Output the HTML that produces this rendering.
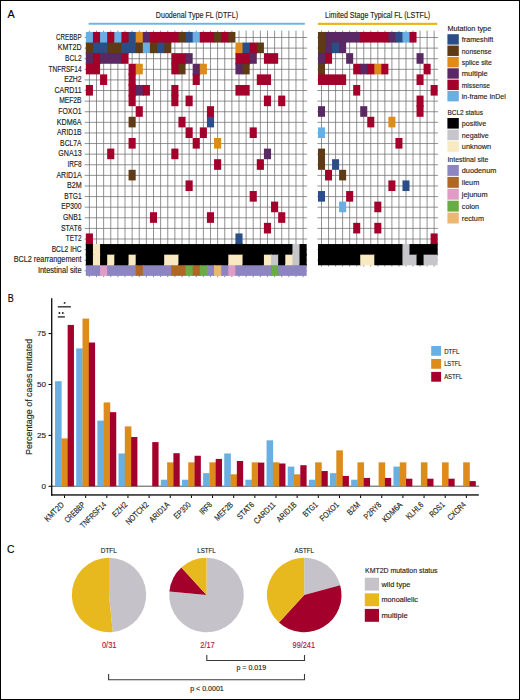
<!DOCTYPE html>
<html><head><meta charset="utf-8"><style>
html,body{margin:0;padding:0;background:#fff;}
body{width:520px;height:700px;overflow:hidden;}
svg{display:block;font-family:"Liberation Sans", sans-serif;}
text{stroke-width:0.15px;}
</style></head><body>
<svg width="520" height="700" viewBox="0 0 520 700">
<rect x="0" y="0" width="520" height="700" fill="#fff"/>
<text x="7.40" y="17.55" font-size="11.65" fill="#000" stroke="#000" text-anchor="start" textLength="7.20" lengthAdjust="spacingAndGlyphs">A</text>
<text x="155.80" y="18.10" font-size="8.72" fill="#231f20" stroke="#231f20" text-anchor="start" textLength="82.20" lengthAdjust="spacingAndGlyphs">Duodenal Type FL (DTFL)</text>
<text x="325.00" y="18.20" font-size="8.72" fill="#231f20" stroke="#231f20" text-anchor="start" textLength="105.20" lengthAdjust="spacingAndGlyphs">Limited Stage Typical FL (LSTFL)</text>
<rect x="88.6" y="22.8" width="216.2" height="1.9" fill="#6cb2e6"/>
<rect x="317.9" y="22.8" width="119.4" height="2.1" fill="#e9b40e"/>
<path d="M89.38 30.65V277.17M96.51 30.65V277.17M103.63 30.65V277.17M110.75 30.65V277.17M117.88 30.65V277.17M125.00 30.65V277.17M132.13 30.65V277.17M139.25 30.65V277.17M146.37 30.65V277.17M153.50 30.65V277.17M160.62 30.65V277.17M167.75 30.65V277.17M174.87 30.65V277.17M181.99 30.65V277.17M189.12 30.65V277.17M196.24 30.65V277.17M203.37 30.65V277.17M210.49 30.65V277.17M217.61 30.65V277.17M224.74 30.65V277.17M231.86 30.65V277.17M238.99 30.65V277.17M246.11 30.65V277.17M253.23 30.65V277.17M260.36 30.65V277.17M267.48 30.65V277.17M274.61 30.65V277.17M281.73 30.65V277.17M288.85 30.65V277.17M295.98 30.65V277.17M303.10 30.65V277.17M321.50 30.65V266.56M328.54 30.65V266.56M335.58 30.65V266.56M342.62 30.65V266.56M349.66 30.65V266.56M356.70 30.65V266.56M363.74 30.65V266.56M370.78 30.65V266.56M377.82 30.65V266.56M384.86 30.65V266.56M391.90 30.65V266.56M398.94 30.65V266.56M405.98 30.65V266.56M413.02 30.65V266.56M420.06 30.65V266.56M427.10 30.65V266.56M434.14 30.65V266.56M84.62 37.50H307.16M84.62 48.11H307.16M84.62 58.71H307.16M84.62 69.32H307.16M84.62 79.92H307.16M84.62 90.53H307.16M84.62 101.13H307.16M84.62 111.74H307.16M84.62 122.34H307.16M84.62 132.95H307.16M84.62 143.55H307.16M84.62 154.16H307.16M84.62 164.76H307.16M84.62 175.37H307.16M84.62 185.97H307.16M84.62 196.58H307.16M84.62 207.18H307.16M84.62 217.79H307.16M84.62 228.39H307.16M84.62 239.00H307.16M84.62 249.60H307.16M84.62 260.21H307.16M84.62 270.81H307.16M317.38 37.50H438.06M317.38 48.11H438.06M317.38 58.71H438.06M317.38 69.32H438.06M317.38 79.92H438.06M317.38 90.53H438.06M317.38 101.13H438.06M317.38 111.74H438.06M317.38 122.34H438.06M317.38 132.95H438.06M317.38 143.55H438.06M317.38 154.16H438.06M317.38 164.76H438.06M317.38 175.37H438.06M317.38 185.97H438.06M317.38 196.58H438.06M317.38 207.18H438.06M317.38 217.79H438.06M317.38 228.39H438.06M317.38 239.00H438.06M317.38 249.60H438.06M317.38 260.21H438.06" stroke="#6e6e6e" stroke-width="0.75" fill="none"/>
<rect x="85.82" y="31.95" width="8.12" height="10.61" fill="#6aafe2"/>
<rect x="85.82" y="41.55" width="7.12" height="2.00" fill="#6aafe2"/>
<rect x="92.94" y="31.95" width="8.12" height="10.61" fill="#a3002b"/>
<rect x="92.94" y="41.55" width="7.12" height="2.00" fill="#a3002b"/>
<rect x="100.07" y="31.95" width="8.12" height="10.61" fill="#6aafe2"/>
<rect x="100.07" y="41.55" width="7.12" height="2.00" fill="#6aafe2"/>
<rect x="107.19" y="31.95" width="8.12" height="10.61" fill="#a3002b"/>
<rect x="107.19" y="41.55" width="7.12" height="2.00" fill="#a3002b"/>
<rect x="114.32" y="31.95" width="8.12" height="10.61" fill="#6aafe2"/>
<rect x="114.32" y="41.55" width="7.12" height="2.00" fill="#6aafe2"/>
<rect x="121.44" y="31.95" width="8.12" height="10.61" fill="#a3002b"/>
<rect x="121.44" y="41.55" width="7.12" height="2.00" fill="#a3002b"/>
<rect x="128.56" y="31.95" width="8.12" height="10.61" fill="#2b4e86"/>
<rect x="128.56" y="41.55" width="7.12" height="2.00" fill="#2b4e86"/>
<rect x="135.69" y="31.95" width="8.12" height="10.61" fill="#dd8b1b"/>
<rect x="135.69" y="41.55" width="7.12" height="2.00" fill="#dd8b1b"/>
<rect x="142.81" y="31.95" width="8.12" height="10.61" fill="#5a2862"/>
<rect x="142.81" y="41.55" width="7.12" height="2.00" fill="#5a2862"/>
<rect x="149.94" y="31.95" width="29.50" height="10.61" fill="#a3002b"/>
<rect x="149.94" y="41.55" width="21.37" height="2.00" fill="#a3002b"/>
<rect x="178.43" y="31.95" width="8.12" height="10.61" fill="#5e3b16"/>
<rect x="185.56" y="31.95" width="8.12" height="10.61" fill="#2b4e86"/>
<rect x="192.68" y="31.95" width="8.12" height="10.61" fill="#6aafe2"/>
<rect x="199.80" y="31.95" width="15.25" height="10.61" fill="#a3002b"/>
<rect x="214.05" y="31.95" width="8.12" height="10.61" fill="#5e3b16"/>
<rect x="221.18" y="31.95" width="8.12" height="10.61" fill="#a3002b"/>
<rect x="228.30" y="31.95" width="7.12" height="10.61" fill="#5e3b16"/>
<rect x="85.82" y="42.55" width="8.12" height="10.61" fill="#5e3b16"/>
<rect x="85.82" y="52.16" width="7.12" height="2.00" fill="#5e3b16"/>
<rect x="92.94" y="42.55" width="15.25" height="10.61" fill="#2b4e86"/>
<rect x="92.94" y="52.16" width="14.25" height="2.00" fill="#2b4e86"/>
<rect x="107.19" y="42.55" width="15.25" height="10.61" fill="#5e3b16"/>
<rect x="107.19" y="52.16" width="14.25" height="2.00" fill="#5e3b16"/>
<rect x="121.44" y="42.55" width="15.25" height="10.61" fill="#2b4e86"/>
<rect x="121.44" y="52.16" width="7.12" height="2.00" fill="#2b4e86"/>
<rect x="135.69" y="42.55" width="8.12" height="10.61" fill="#5e3b16"/>
<rect x="142.81" y="42.55" width="8.12" height="10.61" fill="#6aafe2"/>
<rect x="149.94" y="42.55" width="8.12" height="10.61" fill="#5e3b16"/>
<rect x="157.06" y="42.55" width="8.12" height="10.61" fill="#2b4e86"/>
<rect x="164.18" y="42.55" width="7.12" height="10.61" fill="#5e3b16"/>
<rect x="235.42" y="42.55" width="8.12" height="10.61" fill="#dd8b1b"/>
<rect x="235.42" y="52.16" width="7.12" height="2.00" fill="#dd8b1b"/>
<rect x="242.55" y="42.55" width="8.12" height="10.61" fill="#2b4e86"/>
<rect x="242.55" y="52.16" width="7.12" height="2.00" fill="#2b4e86"/>
<rect x="249.67" y="42.55" width="8.12" height="10.61" fill="#a3002b"/>
<rect x="249.67" y="52.16" width="7.12" height="2.00" fill="#a3002b"/>
<rect x="256.80" y="42.55" width="7.12" height="10.61" fill="#5e3b16"/>
<rect x="85.82" y="53.16" width="8.12" height="10.61" fill="#5a2862"/>
<rect x="85.82" y="62.77" width="7.12" height="2.00" fill="#5a2862"/>
<rect x="92.94" y="53.16" width="8.12" height="10.61" fill="#a3002b"/>
<rect x="92.94" y="62.77" width="7.12" height="2.00" fill="#a3002b"/>
<rect x="100.07" y="53.16" width="22.37" height="10.61" fill="#5a2862"/>
<rect x="121.44" y="53.16" width="7.12" height="10.61" fill="#a3002b"/>
<rect x="171.31" y="53.16" width="15.25" height="10.61" fill="#a3002b"/>
<rect x="171.31" y="62.77" width="14.25" height="2.00" fill="#a3002b"/>
<rect x="185.56" y="53.16" width="7.12" height="10.61" fill="#5a2862"/>
<rect x="235.42" y="53.16" width="15.25" height="10.61" fill="#a3002b"/>
<rect x="235.42" y="62.77" width="14.25" height="2.00" fill="#a3002b"/>
<rect x="249.67" y="53.16" width="7.12" height="10.61" fill="#5a2862"/>
<rect x="263.92" y="53.16" width="14.25" height="10.61" fill="#a3002b"/>
<rect x="85.82" y="63.77" width="14.25" height="10.61" fill="#a3002b"/>
<rect x="128.56" y="63.77" width="8.12" height="10.61" fill="#a3002b"/>
<rect x="128.56" y="73.37" width="7.12" height="2.00" fill="#a3002b"/>
<rect x="135.69" y="63.77" width="7.12" height="10.61" fill="#dd8b1b"/>
<rect x="171.31" y="63.77" width="8.12" height="10.61" fill="#a3002b"/>
<rect x="178.43" y="63.77" width="7.12" height="10.61" fill="#5e3b16"/>
<rect x="192.68" y="63.77" width="8.12" height="10.61" fill="#5a2862"/>
<rect x="192.68" y="73.37" width="7.12" height="2.00" fill="#5a2862"/>
<rect x="199.80" y="63.77" width="7.12" height="10.61" fill="#dd8b1b"/>
<rect x="235.42" y="63.77" width="8.12" height="10.61" fill="#5a2862"/>
<rect x="242.55" y="63.77" width="7.12" height="10.61" fill="#5e3b16"/>
<rect x="100.07" y="74.37" width="7.12" height="10.61" fill="#a3002b"/>
<rect x="128.56" y="74.37" width="7.12" height="10.61" fill="#a3002b"/>
<rect x="128.56" y="83.98" width="7.12" height="2.00" fill="#a3002b"/>
<rect x="192.68" y="74.37" width="7.12" height="10.61" fill="#a3002b"/>
<rect x="256.80" y="74.37" width="14.25" height="10.61" fill="#a3002b"/>
<rect x="85.82" y="84.98" width="7.12" height="10.61" fill="#a3002b"/>
<rect x="128.56" y="84.98" width="8.12" height="10.61" fill="#a3002b"/>
<rect x="128.56" y="94.58" width="7.12" height="2.00" fill="#a3002b"/>
<rect x="135.69" y="84.98" width="8.12" height="10.61" fill="#5a2862"/>
<rect x="142.81" y="84.98" width="7.12" height="10.61" fill="#a3002b"/>
<rect x="171.31" y="84.98" width="7.12" height="10.61" fill="#a3002b"/>
<rect x="171.31" y="94.58" width="7.12" height="2.00" fill="#a3002b"/>
<rect x="235.42" y="84.98" width="14.25" height="10.61" fill="#a3002b"/>
<rect x="128.56" y="95.58" width="7.12" height="10.61" fill="#a3002b"/>
<rect x="171.31" y="95.58" width="7.12" height="10.61" fill="#a3002b"/>
<rect x="185.56" y="95.58" width="7.12" height="10.61" fill="#a3002b"/>
<rect x="263.92" y="95.58" width="7.12" height="10.61" fill="#a3002b"/>
<rect x="278.17" y="95.58" width="7.12" height="10.61" fill="#a3002b"/>
<rect x="135.69" y="106.19" width="7.12" height="10.61" fill="#a3002b"/>
<rect x="206.93" y="106.19" width="7.12" height="10.61" fill="#a3002b"/>
<rect x="206.93" y="115.79" width="7.12" height="2.00" fill="#a3002b"/>
<rect x="128.56" y="116.79" width="7.12" height="10.61" fill="#5e3b16"/>
<rect x="178.43" y="116.79" width="7.12" height="10.61" fill="#a3002b"/>
<rect x="206.93" y="116.79" width="7.12" height="10.61" fill="#2b4e86"/>
<rect x="185.56" y="127.40" width="7.12" height="10.61" fill="#a3002b"/>
<rect x="199.80" y="127.40" width="7.12" height="10.61" fill="#a3002b"/>
<rect x="249.67" y="127.40" width="7.12" height="10.61" fill="#a3002b"/>
<rect x="128.56" y="138.00" width="7.12" height="10.61" fill="#a3002b"/>
<rect x="192.68" y="138.00" width="7.12" height="10.61" fill="#a3002b"/>
<rect x="214.05" y="138.00" width="7.12" height="10.61" fill="#dd8b1b"/>
<rect x="107.19" y="148.60" width="7.12" height="10.61" fill="#a3002b"/>
<rect x="171.31" y="148.60" width="7.12" height="10.61" fill="#a3002b"/>
<rect x="263.92" y="148.60" width="7.12" height="10.61" fill="#5a2862"/>
<rect x="214.05" y="159.21" width="7.12" height="10.61" fill="#a3002b"/>
<rect x="256.80" y="159.21" width="7.12" height="10.61" fill="#a3002b"/>
<rect x="128.56" y="169.81" width="7.12" height="10.61" fill="#5e3b16"/>
<rect x="185.56" y="180.42" width="7.12" height="10.61" fill="#a3002b"/>
<rect x="249.67" y="191.03" width="7.12" height="10.61" fill="#a3002b"/>
<rect x="271.04" y="201.63" width="7.12" height="10.61" fill="#a3002b"/>
<rect x="149.94" y="212.23" width="7.12" height="10.61" fill="#a3002b"/>
<rect x="206.93" y="212.23" width="7.12" height="10.61" fill="#a3002b"/>
<rect x="278.17" y="212.23" width="7.12" height="10.61" fill="#a3002b"/>
<rect x="263.92" y="222.84" width="7.12" height="10.61" fill="#a3002b"/>
<rect x="85.82" y="233.44" width="7.12" height="10.61" fill="#a3002b"/>
<rect x="85.82" y="243.05" width="7.12" height="2.00" fill="#a3002b"/>
<rect x="235.42" y="233.44" width="7.12" height="10.61" fill="#2b4e86"/>
<rect x="235.42" y="243.05" width="7.12" height="2.00" fill="#2b4e86"/>
<rect x="85.82" y="244.05" width="8.12" height="10.61" fill="#000000"/>
<rect x="85.82" y="253.66" width="7.12" height="2.00" fill="#000000"/>
<rect x="92.94" y="244.05" width="8.12" height="10.61" fill="#f8e9c2"/>
<rect x="92.94" y="253.66" width="7.12" height="2.00" fill="#f8e9c2"/>
<rect x="100.07" y="244.05" width="193.35" height="10.61" fill="#000000"/>
<rect x="100.07" y="253.66" width="192.35" height="2.00" fill="#000000"/>
<rect x="292.42" y="244.05" width="8.12" height="10.61" fill="#c6c5ca"/>
<rect x="292.42" y="253.66" width="7.12" height="2.00" fill="#c6c5ca"/>
<rect x="299.54" y="244.05" width="7.12" height="10.61" fill="#000000"/>
<rect x="299.54" y="253.66" width="7.12" height="2.00" fill="#000000"/>
<rect x="85.82" y="254.66" width="8.12" height="10.61" fill="#000000"/>
<rect x="85.82" y="264.26" width="7.12" height="2.00" fill="#000000"/>
<rect x="92.94" y="254.66" width="8.12" height="10.61" fill="#f8e9c2"/>
<rect x="92.94" y="264.26" width="7.12" height="2.00" fill="#f8e9c2"/>
<rect x="100.07" y="254.66" width="8.12" height="10.61" fill="#000000"/>
<rect x="100.07" y="264.26" width="7.12" height="2.00" fill="#000000"/>
<rect x="107.19" y="254.66" width="8.12" height="10.61" fill="#f8e9c2"/>
<rect x="107.19" y="264.26" width="7.12" height="2.00" fill="#f8e9c2"/>
<rect x="114.32" y="254.66" width="15.25" height="10.61" fill="#000000"/>
<rect x="114.32" y="264.26" width="14.25" height="2.00" fill="#000000"/>
<rect x="128.56" y="254.66" width="8.12" height="10.61" fill="#f8e9c2"/>
<rect x="128.56" y="264.26" width="7.12" height="2.00" fill="#f8e9c2"/>
<rect x="135.69" y="254.66" width="29.50" height="10.61" fill="#000000"/>
<rect x="135.69" y="264.26" width="28.50" height="2.00" fill="#000000"/>
<rect x="164.18" y="254.66" width="15.25" height="10.61" fill="#f8e9c2"/>
<rect x="164.18" y="264.26" width="14.25" height="2.00" fill="#f8e9c2"/>
<rect x="178.43" y="254.66" width="50.87" height="10.61" fill="#000000"/>
<rect x="178.43" y="264.26" width="49.87" height="2.00" fill="#000000"/>
<rect x="228.30" y="254.66" width="15.25" height="10.61" fill="#f8e9c2"/>
<rect x="228.30" y="264.26" width="14.25" height="2.00" fill="#f8e9c2"/>
<rect x="242.55" y="254.66" width="22.37" height="10.61" fill="#000000"/>
<rect x="242.55" y="264.26" width="21.37" height="2.00" fill="#000000"/>
<rect x="263.92" y="254.66" width="8.12" height="10.61" fill="#f8e9c2"/>
<rect x="263.92" y="264.26" width="7.12" height="2.00" fill="#f8e9c2"/>
<rect x="271.04" y="254.66" width="8.12" height="10.61" fill="#c6c5ca"/>
<rect x="271.04" y="264.26" width="7.12" height="2.00" fill="#c6c5ca"/>
<rect x="278.17" y="254.66" width="8.12" height="10.61" fill="#000000"/>
<rect x="278.17" y="264.26" width="7.12" height="2.00" fill="#000000"/>
<rect x="285.29" y="254.66" width="8.12" height="10.61" fill="#f8e9c2"/>
<rect x="285.29" y="264.26" width="7.12" height="2.00" fill="#f8e9c2"/>
<rect x="292.42" y="254.66" width="8.12" height="10.61" fill="#c6c5ca"/>
<rect x="292.42" y="264.26" width="7.12" height="2.00" fill="#c6c5ca"/>
<rect x="299.54" y="254.66" width="7.12" height="10.61" fill="#000000"/>
<rect x="299.54" y="264.26" width="7.12" height="2.00" fill="#000000"/>
<rect x="85.82" y="265.26" width="15.25" height="10.61" fill="#8d85c0"/>
<rect x="100.07" y="265.26" width="8.12" height="10.61" fill="#e09cc6"/>
<rect x="107.19" y="265.26" width="29.50" height="10.61" fill="#8d85c0"/>
<rect x="135.69" y="265.26" width="8.12" height="10.61" fill="#af6726"/>
<rect x="142.81" y="265.26" width="29.50" height="10.61" fill="#8d85c0"/>
<rect x="171.31" y="265.26" width="15.25" height="10.61" fill="#af6726"/>
<rect x="185.56" y="265.26" width="8.12" height="10.61" fill="#6aac44"/>
<rect x="192.68" y="265.26" width="8.12" height="10.61" fill="#af6726"/>
<rect x="199.80" y="265.26" width="8.12" height="10.61" fill="#6aac44"/>
<rect x="206.93" y="265.26" width="8.12" height="10.61" fill="#8d85c0"/>
<rect x="214.05" y="265.26" width="8.12" height="10.61" fill="#ebb874"/>
<rect x="221.18" y="265.26" width="8.12" height="10.61" fill="#8d85c0"/>
<rect x="228.30" y="265.26" width="8.12" height="10.61" fill="#e09cc6"/>
<rect x="235.42" y="265.26" width="36.62" height="10.61" fill="#8d85c0"/>
<rect x="271.04" y="265.26" width="8.12" height="10.61" fill="#6aac44"/>
<rect x="278.17" y="265.26" width="28.50" height="10.61" fill="#8d85c0"/>
<rect x="317.98" y="31.95" width="8.04" height="10.61" fill="#5e3b16"/>
<rect x="317.98" y="41.55" width="7.04" height="2.00" fill="#5e3b16"/>
<rect x="325.02" y="31.95" width="36.20" height="10.61" fill="#5a2862"/>
<rect x="325.02" y="41.55" width="21.12" height="2.00" fill="#5a2862"/>
<rect x="360.22" y="31.95" width="29.16" height="10.61" fill="#a3002b"/>
<rect x="388.38" y="31.95" width="8.04" height="10.61" fill="#5a2862"/>
<rect x="395.42" y="31.95" width="8.04" height="10.61" fill="#2b4e86"/>
<rect x="402.46" y="31.95" width="8.04" height="10.61" fill="#6aafe2"/>
<rect x="409.50" y="31.95" width="7.04" height="10.61" fill="#a3002b"/>
<rect x="317.98" y="42.55" width="8.04" height="10.61" fill="#5e3b16"/>
<rect x="317.98" y="52.16" width="7.04" height="2.00" fill="#5e3b16"/>
<rect x="325.02" y="42.55" width="8.04" height="10.61" fill="#5a2862"/>
<rect x="325.02" y="52.16" width="7.04" height="2.00" fill="#5a2862"/>
<rect x="332.06" y="42.55" width="8.04" height="10.61" fill="#2b4e86"/>
<rect x="339.10" y="42.55" width="7.04" height="10.61" fill="#5a2862"/>
<rect x="317.98" y="53.16" width="8.04" height="10.61" fill="#5a2862"/>
<rect x="317.98" y="62.77" width="7.04" height="2.00" fill="#5a2862"/>
<rect x="325.02" y="53.16" width="7.04" height="10.61" fill="#a3002b"/>
<rect x="346.14" y="53.16" width="7.04" height="10.61" fill="#5a2862"/>
<rect x="416.54" y="53.16" width="7.04" height="10.61" fill="#5a2862"/>
<rect x="317.98" y="63.77" width="7.04" height="10.61" fill="#5e3b16"/>
<rect x="317.98" y="73.37" width="7.04" height="2.00" fill="#5e3b16"/>
<rect x="353.18" y="63.77" width="8.04" height="10.61" fill="#a3002b"/>
<rect x="360.22" y="63.77" width="8.04" height="10.61" fill="#5a2862"/>
<rect x="367.26" y="63.77" width="8.04" height="10.61" fill="#a3002b"/>
<rect x="374.30" y="63.77" width="8.04" height="10.61" fill="#dd8b1b"/>
<rect x="381.34" y="63.77" width="7.04" height="10.61" fill="#a3002b"/>
<rect x="423.58" y="63.77" width="7.04" height="10.61" fill="#a3002b"/>
<rect x="317.98" y="74.37" width="28.16" height="10.61" fill="#a3002b"/>
<rect x="416.54" y="74.37" width="7.04" height="10.61" fill="#a3002b"/>
<rect x="353.18" y="84.98" width="7.04" height="10.61" fill="#a3002b"/>
<rect x="430.62" y="84.98" width="7.04" height="10.61" fill="#a3002b"/>
<rect x="416.54" y="95.58" width="7.04" height="10.61" fill="#a3002b"/>
<rect x="416.54" y="105.19" width="7.04" height="2.00" fill="#a3002b"/>
<rect x="317.98" y="106.19" width="7.04" height="10.61" fill="#5a2862"/>
<rect x="360.22" y="106.19" width="7.04" height="10.61" fill="#5a2862"/>
<rect x="416.54" y="106.19" width="7.04" height="10.61" fill="#a3002b"/>
<rect x="367.26" y="116.79" width="7.04" height="10.61" fill="#a3002b"/>
<rect x="388.38" y="116.79" width="7.04" height="10.61" fill="#dd8b1b"/>
<rect x="317.98" y="127.40" width="7.04" height="10.61" fill="#6aafe2"/>
<rect x="395.42" y="138.00" width="7.04" height="10.61" fill="#a3002b"/>
<rect x="317.98" y="148.60" width="7.04" height="10.61" fill="#5e3b16"/>
<rect x="317.98" y="158.21" width="7.04" height="2.00" fill="#5e3b16"/>
<rect x="317.98" y="159.21" width="7.04" height="10.61" fill="#5e3b16"/>
<rect x="332.06" y="159.21" width="7.04" height="10.61" fill="#2b4e86"/>
<rect x="325.02" y="169.81" width="7.04" height="10.61" fill="#a3002b"/>
<rect x="339.10" y="169.81" width="7.04" height="10.61" fill="#5e3b16"/>
<rect x="388.38" y="180.42" width="7.04" height="10.61" fill="#a3002b"/>
<rect x="402.46" y="180.42" width="7.04" height="10.61" fill="#2b4e86"/>
<rect x="317.98" y="191.03" width="7.04" height="10.61" fill="#2b4e86"/>
<rect x="346.14" y="191.03" width="7.04" height="10.61" fill="#a3002b"/>
<rect x="339.10" y="201.63" width="7.04" height="10.61" fill="#6aafe2"/>
<rect x="374.30" y="201.63" width="7.04" height="10.61" fill="#a3002b"/>
<rect x="353.18" y="222.84" width="7.04" height="10.61" fill="#a3002b"/>
<rect x="374.30" y="222.84" width="7.04" height="10.61" fill="#a3002b"/>
<rect x="430.62" y="233.44" width="7.04" height="10.61" fill="#a3002b"/>
<rect x="430.62" y="243.05" width="7.04" height="2.00" fill="#a3002b"/>
<rect x="317.98" y="244.05" width="85.48" height="10.61" fill="#000000"/>
<rect x="317.98" y="253.66" width="84.48" height="2.00" fill="#000000"/>
<rect x="402.46" y="244.05" width="8.04" height="10.61" fill="#c6c5ca"/>
<rect x="402.46" y="253.66" width="7.04" height="2.00" fill="#c6c5ca"/>
<rect x="409.50" y="244.05" width="28.16" height="10.61" fill="#000000"/>
<rect x="409.50" y="253.66" width="28.16" height="2.00" fill="#000000"/>
<rect x="317.98" y="254.66" width="43.24" height="10.61" fill="#000000"/>
<rect x="360.22" y="254.66" width="15.08" height="10.61" fill="#f8e9c2"/>
<rect x="374.30" y="254.66" width="29.16" height="10.61" fill="#000000"/>
<rect x="402.46" y="254.66" width="15.08" height="10.61" fill="#c6c5ca"/>
<rect x="416.54" y="254.66" width="8.04" height="10.61" fill="#000000"/>
<rect x="423.58" y="254.66" width="14.08" height="10.61" fill="#c6c5ca"/>
<text x="81.60" y="39.70" font-size="8.29" fill="#231f20" stroke="#231f20" text-anchor="end" textLength="25.49" lengthAdjust="spacingAndGlyphs">CREBBP</text>
<text x="81.60" y="50.31" font-size="8.29" fill="#231f20" stroke="#231f20" text-anchor="end" textLength="23.87" lengthAdjust="spacingAndGlyphs">KMT2D</text>
<text x="81.60" y="60.91" font-size="8.29" fill="#231f20" stroke="#231f20" text-anchor="end" textLength="16.65" lengthAdjust="spacingAndGlyphs">BCL2</text>
<text x="81.60" y="71.52" font-size="8.29" fill="#231f20" stroke="#231f20" text-anchor="end" textLength="33.07" lengthAdjust="spacingAndGlyphs">TNFRSF14</text>
<text x="81.60" y="82.12" font-size="8.29" fill="#231f20" stroke="#231f20" text-anchor="end" textLength="17.46" lengthAdjust="spacingAndGlyphs">EZH2</text>
<text x="81.60" y="92.73" font-size="8.29" fill="#231f20" stroke="#231f20" text-anchor="end" textLength="27.03" lengthAdjust="spacingAndGlyphs">CARD11</text>
<text x="81.60" y="103.33" font-size="8.29" fill="#231f20" stroke="#231f20" text-anchor="end" textLength="22.42" lengthAdjust="spacingAndGlyphs">MEF2B</text>
<text x="81.60" y="113.94" font-size="8.29" fill="#231f20" stroke="#231f20" text-anchor="end" textLength="23.30" lengthAdjust="spacingAndGlyphs">FOXO1</text>
<text x="81.60" y="124.54" font-size="8.29" fill="#231f20" stroke="#231f20" text-anchor="end" textLength="24.78" lengthAdjust="spacingAndGlyphs">KDM6A</text>
<text x="81.60" y="135.15" font-size="8.29" fill="#231f20" stroke="#231f20" text-anchor="end" textLength="24.57" lengthAdjust="spacingAndGlyphs">ARID1B</text>
<text x="81.60" y="145.75" font-size="8.29" fill="#231f20" stroke="#231f20" text-anchor="end" textLength="21.48" lengthAdjust="spacingAndGlyphs">BCL7A</text>
<text x="81.60" y="156.36" font-size="8.29" fill="#231f20" stroke="#231f20" text-anchor="end" textLength="23.24" lengthAdjust="spacingAndGlyphs">GNA13</text>
<text x="81.60" y="166.96" font-size="8.29" fill="#231f20" stroke="#231f20" text-anchor="end" textLength="14.04" lengthAdjust="spacingAndGlyphs">IRF8</text>
<text x="81.60" y="177.57" font-size="8.29" fill="#231f20" stroke="#231f20" text-anchor="end" textLength="25.12" lengthAdjust="spacingAndGlyphs">ARID1A</text>
<text x="81.60" y="188.17" font-size="8.29" fill="#231f20" stroke="#231f20" text-anchor="end" textLength="14.69" lengthAdjust="spacingAndGlyphs">B2M</text>
<text x="81.60" y="198.78" font-size="8.29" fill="#231f20" stroke="#231f20" text-anchor="end" textLength="17.36" lengthAdjust="spacingAndGlyphs">BTG1</text>
<text x="81.60" y="209.38" font-size="8.29" fill="#231f20" stroke="#231f20" text-anchor="end" textLength="20.25" lengthAdjust="spacingAndGlyphs">EP300</text>
<text x="81.60" y="219.99" font-size="8.29" fill="#231f20" stroke="#231f20" text-anchor="end" textLength="18.64" lengthAdjust="spacingAndGlyphs">GNB1</text>
<text x="81.60" y="230.59" font-size="8.29" fill="#231f20" stroke="#231f20" text-anchor="end" textLength="20.63" lengthAdjust="spacingAndGlyphs">STAT6</text>
<text x="81.60" y="241.20" font-size="8.29" fill="#231f20" stroke="#231f20" text-anchor="end" textLength="15.79" lengthAdjust="spacingAndGlyphs">TET2</text>
<text x="81.60" y="251.80" font-size="8.29" fill="#231f20" stroke="#231f20" text-anchor="end" textLength="29.94" lengthAdjust="spacingAndGlyphs">BCL2 IHC</text>
<text x="81.60" y="262.41" font-size="8.29" fill="#231f20" stroke="#231f20" text-anchor="end" textLength="67.95" lengthAdjust="spacingAndGlyphs">BCL2 rearrangement</text>
<text x="81.60" y="273.01" font-size="8.29" fill="#231f20" stroke="#231f20" text-anchor="end" textLength="43.72" lengthAdjust="spacingAndGlyphs">Intestinal site</text>
<text x="447.40" y="31.20" font-size="7.77" fill="#231f20" stroke="#231f20" text-anchor="start" textLength="43.82" lengthAdjust="spacingAndGlyphs">Mutation type</text>
<rect x="447.40" y="34.20" width="11.40" height="10.40" fill="#2b4e86"/>
<text x="461.80" y="42.25" font-size="7.77" fill="#231f20" stroke="#231f20" text-anchor="start" textLength="31.41" lengthAdjust="spacingAndGlyphs">frameshift</text>
<rect x="447.40" y="45.56" width="11.40" height="10.40" fill="#5e3b16"/>
<text x="461.80" y="53.61" font-size="7.77" fill="#231f20" stroke="#231f20" text-anchor="start" textLength="29.66" lengthAdjust="spacingAndGlyphs">nonsense</text>
<rect x="447.40" y="56.92" width="11.40" height="10.40" fill="#dd8b1b"/>
<text x="461.80" y="64.97" font-size="7.77" fill="#231f20" stroke="#231f20" text-anchor="start" textLength="30.03" lengthAdjust="spacingAndGlyphs">splice site</text>
<rect x="447.40" y="68.28" width="11.40" height="10.40" fill="#5a2862"/>
<text x="461.80" y="76.33" font-size="7.77" fill="#231f20" stroke="#231f20" text-anchor="start" textLength="25.84" lengthAdjust="spacingAndGlyphs">multiple</text>
<rect x="447.40" y="79.64" width="11.40" height="10.40" fill="#a3002b"/>
<text x="461.80" y="87.69" font-size="7.77" fill="#231f20" stroke="#231f20" text-anchor="start" textLength="28.22" lengthAdjust="spacingAndGlyphs">missense</text>
<rect x="447.40" y="91.00" width="11.40" height="10.40" fill="#6aafe2"/>
<text x="461.80" y="99.05" font-size="7.77" fill="#231f20" stroke="#231f20" text-anchor="start" textLength="43.96" lengthAdjust="spacingAndGlyphs">in-frame InDel</text>
<text x="447.40" y="114.80" font-size="7.77" fill="#231f20" stroke="#231f20" text-anchor="start" textLength="35.56" lengthAdjust="spacingAndGlyphs">BCL2 status</text>
<rect x="447.40" y="118.00" width="11.40" height="10.60" fill="#000000"/>
<text x="461.80" y="126.15" font-size="7.77" fill="#231f20" stroke="#231f20" text-anchor="start" textLength="24.38" lengthAdjust="spacingAndGlyphs">positive</text>
<rect x="447.40" y="129.60" width="11.40" height="10.60" fill="#c6c5ca"/>
<text x="461.80" y="137.75" font-size="7.77" fill="#231f20" stroke="#231f20" text-anchor="start" textLength="26.97" lengthAdjust="spacingAndGlyphs">negative</text>
<rect x="447.40" y="141.20" width="11.40" height="10.60" fill="#f8e9c2"/>
<text x="461.80" y="149.35" font-size="7.77" fill="#231f20" stroke="#231f20" text-anchor="start" textLength="29.38" lengthAdjust="spacingAndGlyphs">unknown</text>
<text x="447.40" y="162.20" font-size="7.77" fill="#231f20" stroke="#231f20" text-anchor="start" textLength="40.95" lengthAdjust="spacingAndGlyphs">Intestinal site</text>
<rect x="447.40" y="165.00" width="11.40" height="10.90" fill="#8d85c0"/>
<text x="461.80" y="173.30" font-size="7.77" fill="#231f20" stroke="#231f20" text-anchor="start" textLength="34.55" lengthAdjust="spacingAndGlyphs">duodenum</text>
<rect x="447.40" y="176.90" width="11.40" height="10.90" fill="#af6726"/>
<text x="461.80" y="185.20" font-size="7.77" fill="#231f20" stroke="#231f20" text-anchor="start" textLength="17.43" lengthAdjust="spacingAndGlyphs">ileum</text>
<rect x="447.40" y="188.80" width="11.40" height="10.90" fill="#e09cc6"/>
<text x="461.80" y="197.10" font-size="7.77" fill="#231f20" stroke="#231f20" text-anchor="start" textLength="25.74" lengthAdjust="spacingAndGlyphs">jejunum</text>
<rect x="447.40" y="200.70" width="11.40" height="10.90" fill="#6aac44"/>
<text x="461.80" y="209.00" font-size="7.77" fill="#231f20" stroke="#231f20" text-anchor="start" textLength="17.29" lengthAdjust="spacingAndGlyphs">colon</text>
<rect x="447.40" y="212.60" width="11.40" height="10.90" fill="#ebb874"/>
<text x="461.80" y="220.90" font-size="7.77" fill="#231f20" stroke="#231f20" text-anchor="start" textLength="22.14" lengthAdjust="spacingAndGlyphs">rectum</text>
<text x="7.70" y="301.65" font-size="11.65" fill="#000" stroke="#000" text-anchor="start" textLength="6.00" lengthAdjust="spacingAndGlyphs">B</text>
<rect x="51.5" y="485.70" width="427.5" height="1.0" fill="#555"/>
<rect x="55.05" y="381.19" width="6.60" height="105.11" fill="#6aafe2"/>
<rect x="61.35" y="438.38" width="6.60" height="47.92" fill="#dd8b1b"/>
<rect x="67.65" y="324.91" width="6.30" height="161.39" fill="#a3002b"/>
<rect x="76.20" y="348.34" width="6.60" height="137.96" fill="#6aafe2"/>
<rect x="82.50" y="318.59" width="6.60" height="167.71" fill="#dd8b1b"/>
<rect x="88.80" y="342.52" width="6.30" height="143.78" fill="#a3002b"/>
<rect x="97.35" y="420.61" width="6.60" height="65.69" fill="#6aafe2"/>
<rect x="103.65" y="402.44" width="6.60" height="83.86" fill="#dd8b1b"/>
<rect x="109.95" y="412.17" width="6.30" height="74.13" fill="#a3002b"/>
<rect x="118.50" y="453.45" width="6.60" height="32.85" fill="#6aafe2"/>
<rect x="124.80" y="426.40" width="6.60" height="59.90" fill="#dd8b1b"/>
<rect x="131.10" y="437.02" width="6.30" height="49.28" fill="#a3002b"/>
<rect x="152.25" y="442.11" width="6.30" height="44.19" fill="#a3002b"/>
<rect x="160.80" y="479.73" width="6.60" height="6.57" fill="#6aafe2"/>
<rect x="167.10" y="462.34" width="6.60" height="23.96" fill="#dd8b1b"/>
<rect x="173.40" y="453.21" width="6.30" height="33.09" fill="#a3002b"/>
<rect x="181.95" y="479.73" width="6.60" height="6.57" fill="#6aafe2"/>
<rect x="188.25" y="462.34" width="6.60" height="23.96" fill="#dd8b1b"/>
<rect x="194.55" y="455.75" width="6.30" height="30.55" fill="#a3002b"/>
<rect x="203.10" y="473.16" width="6.60" height="13.14" fill="#6aafe2"/>
<rect x="209.40" y="462.34" width="6.60" height="23.96" fill="#dd8b1b"/>
<rect x="215.70" y="458.91" width="6.30" height="27.39" fill="#a3002b"/>
<rect x="224.25" y="453.45" width="6.60" height="32.85" fill="#6aafe2"/>
<rect x="230.55" y="474.32" width="6.60" height="11.98" fill="#dd8b1b"/>
<rect x="236.85" y="460.95" width="6.30" height="25.35" fill="#a3002b"/>
<rect x="245.40" y="479.73" width="6.60" height="6.57" fill="#6aafe2"/>
<rect x="251.70" y="462.34" width="6.60" height="23.96" fill="#dd8b1b"/>
<rect x="258.00" y="462.60" width="6.30" height="23.70" fill="#a3002b"/>
<rect x="266.55" y="440.31" width="6.60" height="45.99" fill="#6aafe2"/>
<rect x="272.85" y="462.34" width="6.60" height="23.96" fill="#dd8b1b"/>
<rect x="279.15" y="463.49" width="6.30" height="22.81" fill="#a3002b"/>
<rect x="287.70" y="466.59" width="6.60" height="19.71" fill="#6aafe2"/>
<rect x="294.00" y="474.32" width="6.60" height="11.98" fill="#dd8b1b"/>
<rect x="300.30" y="465.20" width="6.30" height="21.10" fill="#a3002b"/>
<rect x="308.85" y="479.73" width="6.60" height="6.57" fill="#6aafe2"/>
<rect x="315.15" y="462.34" width="6.60" height="23.96" fill="#dd8b1b"/>
<rect x="321.45" y="471.03" width="6.30" height="15.27" fill="#a3002b"/>
<rect x="330.00" y="473.16" width="6.60" height="13.14" fill="#6aafe2"/>
<rect x="336.30" y="450.36" width="6.60" height="35.94" fill="#dd8b1b"/>
<rect x="342.60" y="475.91" width="6.30" height="10.39" fill="#a3002b"/>
<rect x="351.15" y="479.73" width="6.60" height="6.57" fill="#6aafe2"/>
<rect x="357.45" y="462.34" width="6.60" height="23.96" fill="#dd8b1b"/>
<rect x="363.75" y="477.91" width="6.30" height="8.39" fill="#a3002b"/>
<rect x="378.60" y="462.34" width="6.60" height="23.96" fill="#dd8b1b"/>
<rect x="384.90" y="477.91" width="6.30" height="8.39" fill="#a3002b"/>
<rect x="393.45" y="466.59" width="6.60" height="19.71" fill="#6aafe2"/>
<rect x="399.75" y="462.34" width="6.60" height="23.96" fill="#dd8b1b"/>
<rect x="406.05" y="478.70" width="6.30" height="7.60" fill="#a3002b"/>
<rect x="420.90" y="462.34" width="6.60" height="23.96" fill="#dd8b1b"/>
<rect x="427.20" y="478.70" width="6.30" height="7.60" fill="#a3002b"/>
<rect x="442.05" y="462.34" width="6.60" height="23.96" fill="#dd8b1b"/>
<rect x="448.35" y="478.70" width="6.30" height="7.60" fill="#a3002b"/>
<rect x="463.20" y="462.34" width="6.60" height="23.96" fill="#dd8b1b"/>
<rect x="469.50" y="481.11" width="6.30" height="5.19" fill="#a3002b"/>
<rect x="51.1" y="298.2" width="1.25" height="197.4" fill="#000"/>
<rect x="51.1" y="494.3" width="427.7" height="1.3" fill="#000"/>
<rect x="48.5" y="485.80" width="3" height="1" fill="#000"/>
<text x="46.1" y="489.15" font-size="8.1" fill="#231f20" stroke="#231f20" text-anchor="end">0</text>
<rect x="48.5" y="434.89" width="3" height="1" fill="#000"/>
<text x="46.1" y="438.24" font-size="8.1" fill="#231f20" stroke="#231f20" text-anchor="end">25</text>
<rect x="48.5" y="383.98" width="3" height="1" fill="#000"/>
<text x="46.1" y="387.33" font-size="8.1" fill="#231f20" stroke="#231f20" text-anchor="end">50</text>
<rect x="48.5" y="333.06" width="3" height="1" fill="#000"/>
<text x="46.1" y="336.41" font-size="8.1" fill="#231f20" stroke="#231f20" text-anchor="end">75</text>
<rect x="64.00" y="495.4" width="1" height="2.6" fill="#000"/>
<text transform="translate(64.50,505.30) rotate(-45)" font-size="8.29" fill="#231f20" stroke="#231f20" text-anchor="end" textLength="23.87" lengthAdjust="spacingAndGlyphs">KMT2D</text>
<rect x="85.15" y="495.4" width="1" height="2.6" fill="#000"/>
<text transform="translate(85.65,505.30) rotate(-45)" font-size="8.29" fill="#231f20" stroke="#231f20" text-anchor="end" textLength="25.49" lengthAdjust="spacingAndGlyphs">CREBBP</text>
<rect x="106.30" y="495.4" width="1" height="2.6" fill="#000"/>
<text transform="translate(106.80,505.30) rotate(-45)" font-size="8.29" fill="#231f20" stroke="#231f20" text-anchor="end" textLength="33.07" lengthAdjust="spacingAndGlyphs">TNFRSF14</text>
<rect x="127.45" y="495.4" width="1" height="2.6" fill="#000"/>
<text transform="translate(127.95,505.30) rotate(-45)" font-size="8.29" fill="#231f20" stroke="#231f20" text-anchor="end" textLength="17.46" lengthAdjust="spacingAndGlyphs">EZH2</text>
<rect x="148.60" y="495.4" width="1" height="2.6" fill="#000"/>
<text transform="translate(149.10,505.30) rotate(-45)" font-size="8.29" fill="#231f20" stroke="#231f20" text-anchor="end" textLength="28.35" lengthAdjust="spacingAndGlyphs">NOTCH2</text>
<rect x="169.75" y="495.4" width="1" height="2.6" fill="#000"/>
<text transform="translate(170.25,505.30) rotate(-45)" font-size="8.29" fill="#231f20" stroke="#231f20" text-anchor="end" textLength="25.12" lengthAdjust="spacingAndGlyphs">ARID1A</text>
<rect x="190.90" y="495.4" width="1" height="2.6" fill="#000"/>
<text transform="translate(191.40,505.30) rotate(-45)" font-size="8.29" fill="#231f20" stroke="#231f20" text-anchor="end" textLength="20.25" lengthAdjust="spacingAndGlyphs">EP300</text>
<rect x="212.05" y="495.4" width="1" height="2.6" fill="#000"/>
<text transform="translate(212.55,505.30) rotate(-45)" font-size="8.29" fill="#231f20" stroke="#231f20" text-anchor="end" textLength="14.04" lengthAdjust="spacingAndGlyphs">IRF8</text>
<rect x="233.20" y="495.4" width="1" height="2.6" fill="#000"/>
<text transform="translate(233.70,505.30) rotate(-45)" font-size="8.29" fill="#231f20" stroke="#231f20" text-anchor="end" textLength="22.42" lengthAdjust="spacingAndGlyphs">MEF2B</text>
<rect x="254.35" y="495.4" width="1" height="2.6" fill="#000"/>
<text transform="translate(254.85,505.30) rotate(-45)" font-size="8.29" fill="#231f20" stroke="#231f20" text-anchor="end" textLength="20.63" lengthAdjust="spacingAndGlyphs">STAT6</text>
<rect x="275.50" y="495.4" width="1" height="2.6" fill="#000"/>
<text transform="translate(276.00,505.30) rotate(-45)" font-size="8.29" fill="#231f20" stroke="#231f20" text-anchor="end" textLength="27.03" lengthAdjust="spacingAndGlyphs">CARD11</text>
<rect x="296.65" y="495.4" width="1" height="2.6" fill="#000"/>
<text transform="translate(297.15,505.30) rotate(-45)" font-size="8.29" fill="#231f20" stroke="#231f20" text-anchor="end" textLength="24.57" lengthAdjust="spacingAndGlyphs">ARID1B</text>
<rect x="317.80" y="495.4" width="1" height="2.6" fill="#000"/>
<text transform="translate(318.30,505.30) rotate(-45)" font-size="8.29" fill="#231f20" stroke="#231f20" text-anchor="end" textLength="17.36" lengthAdjust="spacingAndGlyphs">BTG1</text>
<rect x="338.95" y="495.4" width="1" height="2.6" fill="#000"/>
<text transform="translate(339.45,505.30) rotate(-45)" font-size="8.29" fill="#231f20" stroke="#231f20" text-anchor="end" textLength="23.30" lengthAdjust="spacingAndGlyphs">FOXO1</text>
<rect x="360.10" y="495.4" width="1" height="2.6" fill="#000"/>
<text transform="translate(360.60,505.30) rotate(-45)" font-size="8.29" fill="#231f20" stroke="#231f20" text-anchor="end" textLength="14.69" lengthAdjust="spacingAndGlyphs">B2M</text>
<rect x="381.25" y="495.4" width="1" height="2.6" fill="#000"/>
<text transform="translate(381.75,505.30) rotate(-45)" font-size="8.29" fill="#231f20" stroke="#231f20" text-anchor="end" textLength="20.83" lengthAdjust="spacingAndGlyphs">P2RY8</text>
<rect x="402.40" y="495.4" width="1" height="2.6" fill="#000"/>
<text transform="translate(402.90,505.30) rotate(-45)" font-size="8.29" fill="#231f20" stroke="#231f20" text-anchor="end" textLength="24.78" lengthAdjust="spacingAndGlyphs">KDM6A</text>
<rect x="423.55" y="495.4" width="1" height="2.6" fill="#000"/>
<text transform="translate(424.05,505.30) rotate(-45)" font-size="8.29" fill="#231f20" stroke="#231f20" text-anchor="end" textLength="20.94" lengthAdjust="spacingAndGlyphs">KLHL6</text>
<rect x="444.70" y="495.4" width="1" height="2.6" fill="#000"/>
<text transform="translate(445.20,505.30) rotate(-45)" font-size="8.29" fill="#231f20" stroke="#231f20" text-anchor="end" textLength="17.64" lengthAdjust="spacingAndGlyphs">ROS1</text>
<rect x="465.85" y="495.4" width="1" height="2.6" fill="#000"/>
<text transform="translate(466.35,505.30) rotate(-45)" font-size="8.29" fill="#231f20" stroke="#231f20" text-anchor="end" textLength="21.98" lengthAdjust="spacingAndGlyphs">CXCR4</text>
<text transform="translate(31.7,396.9) rotate(-90)" font-size="9.6" fill="#231f20" stroke="#231f20" text-anchor="middle" textLength="116" lengthAdjust="spacingAndGlyphs">Percentage of cases mutated</text>
<rect x="57.8" y="306.1" width="13.1" height="1.4" fill="#333"/>
<rect x="57.8" y="316.2" width="7.1" height="1.4" fill="#333"/>
<circle cx="64.6" cy="302.9" r="0.95" fill="#222"/>
<circle cx="59.4" cy="313.0" r="0.95" fill="#222"/>
<circle cx="62.8" cy="313.0" r="0.95" fill="#222"/>
<rect x="431.2" y="346.00" width="9.9" height="9.8" fill="#6aafe2"/>
<text x="444.20" y="353.50" font-size="7.46" fill="#231f20" stroke="#231f20" text-anchor="start" textLength="15.07" lengthAdjust="spacingAndGlyphs">DTFL</text>
<rect x="431.2" y="358.95" width="9.9" height="9.8" fill="#dd8b1b"/>
<text x="444.20" y="366.45" font-size="7.46" fill="#231f20" stroke="#231f20" text-anchor="start" textLength="17.19" lengthAdjust="spacingAndGlyphs">LSTFL</text>
<rect x="431.2" y="371.90" width="9.9" height="9.8" fill="#a3002b"/>
<text x="444.20" y="379.40" font-size="7.46" fill="#231f20" stroke="#231f20" text-anchor="start" textLength="18.18" lengthAdjust="spacingAndGlyphs">ASTFL</text>
<text x="6.90" y="552.90" font-size="11.65" fill="#000" stroke="#000" text-anchor="start" textLength="7.50" lengthAdjust="spacingAndGlyphs">C</text>
<path d="M109.00 595.00L109.00 557.80A37.2 37.2 0 0 1 112.76 632.01Z" fill="#c5c3c9"/>
<path d="M109.00 595.00L112.76 632.01A37.2 37.2 0 1 1 109.00 557.80Z" fill="#e8b81f"/>
<path d="M206.50 595.00L206.50 557.70A37.3 37.3 0 1 1 169.36 591.56Z" fill="#c5c3c9"/>
<path d="M206.50 595.00L169.36 591.56A37.3 37.3 0 0 1 181.37 567.43Z" fill="#a3002b"/>
<path d="M206.50 595.00L181.37 567.43A37.3 37.3 0 0 1 206.50 557.70Z" fill="#e8b81f"/>
<path d="M304.20 595.00L304.20 557.70A37.3 37.3 0 0 1 340.18 585.15Z" fill="#c5c3c9"/>
<path d="M304.20 595.00L340.18 585.15A37.3 37.3 0 0 1 278.97 622.47Z" fill="#a3002b"/>
<path d="M304.20 595.00L278.97 622.47A37.3 37.3 0 0 1 304.20 557.70Z" fill="#e8b81f"/>
<text x="108.80" y="553.00" font-size="7.98" fill="#231f20" stroke="#231f20" text-anchor="middle" textLength="16.13" lengthAdjust="spacingAndGlyphs">DTFL</text>
<text x="206.50" y="553.00" font-size="7.98" fill="#231f20" stroke="#231f20" text-anchor="middle" textLength="18.40" lengthAdjust="spacingAndGlyphs">LSTFL</text>
<text x="304.30" y="552.70" font-size="7.98" fill="#231f20" stroke="#231f20" text-anchor="middle" textLength="19.46" lengthAdjust="spacingAndGlyphs">ASTFL</text>
<text x="109.20" y="648.00" font-size="8.51" fill="#b0163e" stroke="#b0163e" text-anchor="middle" textLength="14.49" lengthAdjust="spacingAndGlyphs">0/31</text>
<text x="207.50" y="648.00" font-size="8.51" fill="#b0163e" stroke="#b0163e" text-anchor="middle" textLength="14.49" lengthAdjust="spacingAndGlyphs">2/17</text>
<text x="303.80" y="648.00" font-size="8.51" fill="#b0163e" stroke="#b0163e" text-anchor="middle" textLength="22.39" lengthAdjust="spacingAndGlyphs">99/241</text>
<path d="M206.8 655V660.5H304.5V655" stroke="#3a3a3a" stroke-width="1.1" fill="none"/>
<path d="M108.6 674V679.7H304.5V674" stroke="#3a3a3a" stroke-width="1.1" fill="none"/>
<text x="251.30" y="670.00" font-size="8.09" fill="#231f20" stroke="#231f20" text-anchor="middle" textLength="29.63" lengthAdjust="spacingAndGlyphs">p = 0.019</text>
<text x="207.00" y="690.60" font-size="8.09" fill="#231f20" stroke="#231f20" text-anchor="middle" textLength="33.58" lengthAdjust="spacingAndGlyphs">p &lt; 0.0001</text>
<text x="365.00" y="573.00" font-size="7.77" fill="#231f20" stroke="#231f20" text-anchor="start" textLength="72.52" lengthAdjust="spacingAndGlyphs">KMT2D mutation status</text>
<rect x="364.8" y="577.70" width="14.2" height="12.9" fill="#c5c3c9"/>
<text x="381.50" y="586.70" font-size="7.88" fill="#231f20" stroke="#231f20" text-anchor="start" textLength="28.91" lengthAdjust="spacingAndGlyphs">wild type</text>
<rect x="364.8" y="593.30" width="14.2" height="12.9" fill="#e8b81f"/>
<text x="381.50" y="602.30" font-size="7.88" fill="#231f20" stroke="#231f20" text-anchor="start" textLength="36.45" lengthAdjust="spacingAndGlyphs">monoallelic</text>
<rect x="364.8" y="608.90" width="14.2" height="12.9" fill="#a3002b"/>
<text x="381.50" y="617.90" font-size="7.88" fill="#231f20" stroke="#231f20" text-anchor="start" textLength="26.19" lengthAdjust="spacingAndGlyphs">multiple</text>
<rect x="0.5" y="0.5" width="519" height="699" fill="none" stroke="#000" stroke-width="1"/>
</svg>
</body></html>
